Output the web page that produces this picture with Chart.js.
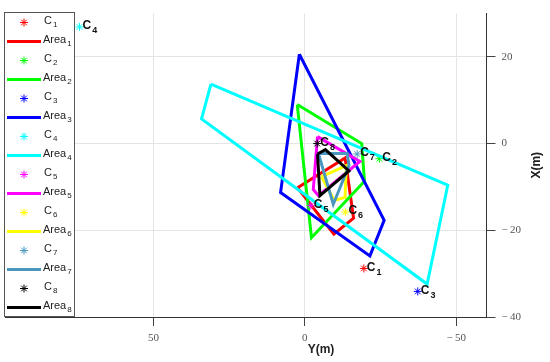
<!DOCTYPE html>
<html><head><meta charset="utf-8">
<script src="https://cdn.jsdelivr.net/npm/chart.js@4.4.1/dist/chart.umd.min.js"></script>
<style>html,body{margin:0;padding:0;background:#fff;overflow:hidden}</style>
</head><body>
<canvas id="c" width="550" height="362"></canvas>
<script>
// ---- data (horizontal axis = "Y(m)", vertical axis = "X(m)") ----
const seriesIds = ['1','2','3','4','5','6','7','8'];
const seriesColors = ['#ff0000','#00ff00','#0000ff','#00ffff','#ff00ff','#ffff00','#4a98c0','#000000'];
const centerY = [-19.5, -24.6, -37.3, 74.4, -2.0, -13.4, -17.3, -4.1];
const centerX = [-28.8, -3.5, -34.1, 26.9, -14.3, -15.8, -2.4, 0.0];
const area1Y = [2.4, -13.3, -16.1, -9.6];   const area1X = [-10.2, -3.3, -17.2, -20.9];
const area2Y = [2.5, -18.8, -19.7, -2.2];   const area2X = [9.0, 0.0, -8.7, -21.7];
const area3Y = [1.8, 8.0, -21.5, -26.2];    const area3X = [20.6, -11.3, -25.9, -17.7];
const area4Y = [31.0, 34.1, -40.4, -47.2];  const area4X = [13.7, 5.7, -32.4, -9.6];
const area5Y = [-4.2, -18.2, -4.5, -2.8];   const area5X = [1.6, -4.1, -12.0, -10.6];
const area6Y = [-5.5, -13.7, -13.3, -9.7];  const area6X = [-7.6, -5.1, -12.4, -13.1];
const area7Y = [-4.5, -14.0, -14.6, -9.4];  const area7X = [-2.3, -2.3, -5.1, -14.0];
const area8Y = [-4.2, -6.8, -14.6, -5.0];   const area8X = [-2.4, -1.4, -6.3, -12.0];
const xTickValues = [50, 0, -50];
const yTickValues = [20, 0, -20, -40];
const xTitle = 'Y(m)';
const yTitle = 'X(m)';

const areasY = [area1Y, area2Y, area3Y, area4Y, area5Y, area6Y, area7Y, area8Y];
const areasX = [area1X, area2X, area3X, area4X, area5X, area6X, area7X, area8X];

const datasets = [];
seriesIds.forEach((id, i) => {
  datasets.push({
    label: 'C' + id, kind: 'center', sub: id,
    data: [{x: centerY[i], y: centerX[i]}],
    showLine: false, pointStyle: 'star', pointRadius: 4, pointBorderWidth: 1,
    borderColor: seriesColors[i], backgroundColor: seriesColors[i]
  });
  const pts = areasY[i].map((v, k) => ({x: v, y: areasX[i][k]}));
  pts.push(pts[0]);
  datasets.push({
    label: 'Area' + id, kind: 'area', sub: id,
    data: pts, showLine: true, fill: false, tension: 0, pointRadius: 0,
    borderColor: seriesColors[i], borderWidth: 3, borderJoinStyle: 'miter'
  });
});
const N = datasets.length;
datasets.forEach((d, i) => d.order = N - i);

const SANS = '"Liberation Sans", Arial, sans-serif';
const SERIF = '"Liberation Serif", "DejaVu Serif", serif';

function starAt(ctx, x, y, r, color) {
  ctx.save();
  ctx.strokeStyle = color; ctx.lineWidth = 1;
  ctx.beginPath();
  for (let a = 0; a < 4; a++) {
    const t = a * Math.PI / 4;
    ctx.moveTo(x - r * Math.cos(t), y - r * Math.sin(t));
    ctx.lineTo(x + r * Math.cos(t), y + r * Math.sin(t));
  }
  ctx.stroke();
  ctx.restore();
}

function subText(ctx, x, y, main, sub, size, subSize, bold, color) {
  ctx.save();
  ctx.fillStyle = color;
  ctx.textBaseline = 'middle';
  ctx.textAlign = 'left';
  ctx.font = (bold ? 'bold ' : '') + size + 'px ' + SANS;
  ctx.fillText(main, x, y);
  const w = ctx.measureText(main).width;
  ctx.font = (bold ? 'bold ' : '') + subSize + 'px ' + SANS;
  ctx.fillText(sub, x + w + 1, y + size * 0.4);
  ctx.restore();
}

const overlay = {
  id: 'overlay',
  afterDatasetsDraw(chart) {
    const ctx = chart.ctx;
    const xs = chart.scales.x, ys = chart.scales.y;
    seriesIds.forEach((id, i) => {
      const px = xs.getPixelForValue(centerY[i]);
      const py = ys.getPixelForValue(centerX[i]);
      subText(ctx, px + 3, py - 1, 'C', id, 12, 9, true, '#111');
    });
  },
  afterDraw(chart) {
    const ctx = chart.ctx;
    const ca = chart.chartArea;
    const lx = 4, ly = 12, lw = 70, lh = 304;
    ctx.save();
    ctx.fillStyle = '#fff';
    ctx.fillRect(lx, ly, lw, lh);
    ctx.strokeStyle = '#555'; ctx.lineWidth = 1;
    ctx.strokeRect(lx + 0.5, ly + 0.5, lw, lh);
    ctx.restore();
    const rowH = lh / N;
    chart.data.datasets.forEach((d, i) => {
      const cy = ly + rowH * (i + 0.5);
      if (d.kind === 'center') {
        starAt(ctx, 24, cy + 1, 4, d.borderColor);
        subText(ctx, 44, cy - 1, 'C', d.sub, 11, 8, false, '#222');
      } else {
        ctx.save();
        ctx.strokeStyle = d.borderColor; ctx.lineWidth = 3;
        ctx.beginPath(); ctx.moveTo(7, cy + 1); ctx.lineTo(41, cy + 1); ctx.stroke();
        ctx.restore();
        subText(ctx, 43, cy - 1, 'Area', d.sub, 11, 8, false, '#222');
      }
    });
    ctx.save();
    ctx.fillStyle = '#222';
    ctx.font = 'bold 12px ' + SANS;
    ctx.textAlign = 'center'; ctx.textBaseline = 'middle';
    ctx.fillText(xTitle, 321, 350);
    ctx.translate(537, (ca.top + ca.bottom) / 2);
    ctx.rotate(-Math.PI / 2);
    ctx.fillText(yTitle, 0, 0);
    ctx.restore();
  }
};

function fmt(v) { return v < 0 ? '\u2212\u2009' + Math.abs(v) : String(v); }

new Chart(document.getElementById('c'), {
  type: 'scatter',
  data: { datasets },
  options: {
    responsive: false, animation: false, devicePixelRatio: 1,
    layout: { padding: { left: 1, top: 13.5, right: 0, bottom: 0 } },
    plugins: { legend: { display: false }, tooltip: { enabled: false } },
    scales: {
      x: {
        type: 'linear', reverse: true, min: -60, max: 99,
        afterFit(s) { s.height = 45; },
        afterBuildTicks(s) { s.ticks = xTickValues.map(v => ({value: v})); },
        grid: { color: '#e4e4e4', tickColor: '#444', tickLength: 9, lineWidth: 1 },
        border: { display: true, color: '#333', width: 1 },
        ticks: { color: '#555', padding: 6, maxRotation: 0, font: { family: SERIF, size: 11 }, callback: fmt }
      },
      y: {
        type: 'linear', position: 'right', min: -40, max: 30,
        afterFit(s) { s.width = 63.5; },
        afterBuildTicks(s) { s.ticks = yTickValues.map(v => ({value: v})); },
        grid: { color: '#e4e4e4', tickColor: '#444', tickLength: 9, lineWidth: 1 },
        border: { display: true, color: '#333', width: 1 },
        ticks: { color: '#555', padding: 6, font: { family: SERIF, size: 11 }, callback: fmt }
      }
    }
  },
  plugins: [overlay]
});
</script>
</body></html>
